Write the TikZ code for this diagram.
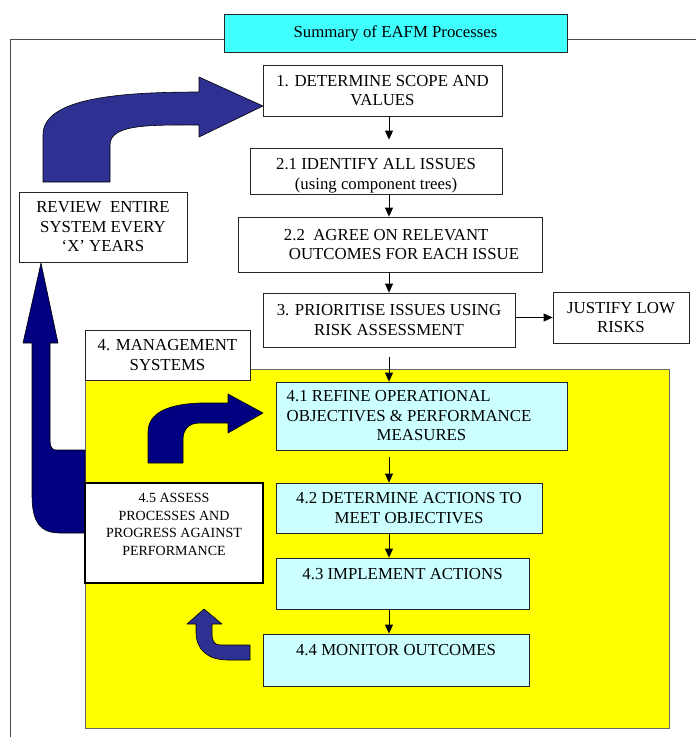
\documentclass[tikz,border=0pt]{standalone}
\usepackage{fontspec}
\setmainfont{Liberation Serif}
\usetikzlibrary{arrows.meta}
\definecolor{ciano}{RGB}{64,255,255}
\definecolor{azulclaro}{RGB}{204,255,255}
\definecolor{amarelo}{RGB}{255,255,0}
\definecolor{azulseta}{RGB}{46,49,146}
\definecolor{marinho}{RGB}{0,0,128}
\begin{document}
\begin{tikzpicture}[x=1pt,y=-1pt, %Escala em pontos, eixo y para baixo
	caixa/.style={draw=black!85, fill=white, line width=0.8pt, inner sep=0pt, align=center, font=\fontsize{16.8}{19.5}\selectfont},
	caixaclara/.style={caixa, fill=azulclaro},
	seta/.style={-{Triangle[length=9pt,width=8pt]}, line width=0.8pt},
	setagrande/.style={draw=black, line width=0.6pt, line join=round}]
\useasboundingbox (0,0) rectangle (696,737);
	%Moldura e titulo
\draw[black!70, line width=1pt] (225,39) -- (10,39) -- (10,737);
\draw[black!70, line width=1pt] (565,39) -- (696,39);
\node[caixa, fill=ciano, minimum width=343pt, minimum height=38pt] (titulo) at (395.5,33) {Summary of EAFM Processes};
	%Area amarela (sistemas de gestao)
\draw[fill=amarelo, draw=black!60, line width=0.8pt] (85,369) rectangle (669,728);
	%Setas grandes
\draw[setagrande, fill=marinho] (85,450) -- (56,450) .. controls (52,450) and (50,447) .. (50,440) -- (50,343) -- (58,343) -- (41,263) -- (23,343) -- (32,343) -- (32,495) .. controls (32,522) and (40,533) .. (60,533) -- (85,533) -- cycle;
\draw[setagrande, fill=azulseta] (43,182) -- (43,135) .. controls (43,100) and (110,92) .. (199,92) -- (199,77) -- (263,106) -- (199,137) -- (199,125) .. controls (150,125) and (110,124) .. (110,145) -- (110,182) -- cycle;
\draw[setagrande, fill=marinho] (148,463) -- (148,432) .. controls (148,412) and (170,404) .. (200,403) -- (228,403) -- (228,394) -- (263,413) -- (228,433) -- (228,423) -- (200,423) .. controls (188,423) and (183,430) .. (183,440) -- (183,463) -- cycle;
\draw[setagrande, fill=azulseta] (250,645) -- (220,645) .. controls (214,645) and (212,640) .. (212,634) -- (212,624) -- (222,624) -- (204,609) -- (187,624) -- (196,624) -- (196,632) .. controls (196,650) and (208,660) .. (228,660) -- (250,660) -- cycle;
	%Caixas
\node[caixa, minimum width=239pt, minimum height=51pt] (escopo) at (382.5,90.5) {1. DETERMINE SCOPE AND\\VALUES};
\node[caixa, minimum width=252pt, minimum height=46pt,
	path picture={\node[draw=none, fill=none, align=center, font=\fontsize{16.8}{20}\selectfont] (questoes-txt) at ([yshift=-4.5pt]path picture bounding box.center) {2.1 IDENTIFY ALL ISSUES\\(using component trees)};}] (questoes) at (376,171) {};
\node[caixa, align=left, minimum width=304pt, minimum height=55pt] (resultados) at (390,244.5) {\hspace*{23pt}2.2\ \ AGREE ON RELEVANT\\\hspace*{28pt}OUTCOMES FOR EACH ISSUE};
\node[caixa, minimum width=252pt, minimum height=54pt] (prioridade) at (389,320) {3. PRIORITISE ISSUES USING\\RISK ASSESSMENT};
\node[caixa, minimum width=136pt, minimum height=51pt] (justifica) at (621,317.5) {JUSTIFY LOW\\RISKS};
\node[caixa, minimum width=165pt, minimum height=50pt] (gestao) at (167.5,355) {4. MANAGEMENT\\SYSTEMS};
\node[caixa, minimum width=168pt, minimum height=70pt] (revisao) at (103,227) {REVIEW\ \ ENTIRE\\SYSTEM EVERY\\‘X’ YEARS};
\node[caixaclara, align=left, minimum width=291pt, minimum height=68pt] (refinar) at (421.5,416) {4.1 REFINE OPERATIONAL\\OBJECTIVES \& PERFORMANCE\hspace*{25pt}\null\\\hspace*{90pt}MEASURES};
\node[caixaclara, minimum width=266pt, minimum height=50pt] (acoes) at (409,508) {4.2 DETERMINE ACTIONS TO\\MEET OBJECTIVES};
\node[caixaclara, minimum width=253pt, minimum height=51pt] (implementar) at (402.5,583.5) {4.3 IMPLEMENT ACTIONS\\\mbox{}};
\node[caixaclara, minimum width=266pt, minimum height=52pt] (monitorar) at (396,660) {4.4 MONITOR OUTCOMES\\\mbox{}};
\node[caixa, line width=1.6pt, draw=black, minimum width=178pt, minimum height=100pt, font=\fontsize{14}{17.5}\selectfont] (avaliar) at (174,533) {4.5 ASSESS\\PROCESSES AND\\PROGRESS AGAINST\\PERFORMANCE\\\mbox{}};
	%Setas entre caixas
\coordinate (eixo) at (389,0);
\draw[seta, shorten >=8pt] (escopo.south -| eixo) -- (questoes.north -| eixo);
\draw[seta] (questoes.south -| eixo) -- (resultados.north -| eixo);
\draw[seta] (resultados.south -| eixo) -- (prioridade.north -| eixo);
\draw[seta, shorten <=10pt] (prioridade.south -| eixo) -- (refinar.north -| eixo);
\draw[seta, shorten <=7pt] (refinar.south -| eixo) -- (acoes.north -| eixo);
\draw[seta] (acoes.south -| eixo) -- (implementar.north -| eixo);
\draw[seta] (implementar.south -| eixo) -- (monitorar.north -| eixo);
\draw[seta] (prioridade.east |- justifica.west) -- (justifica.west);
\end{tikzpicture}
\end{document}
